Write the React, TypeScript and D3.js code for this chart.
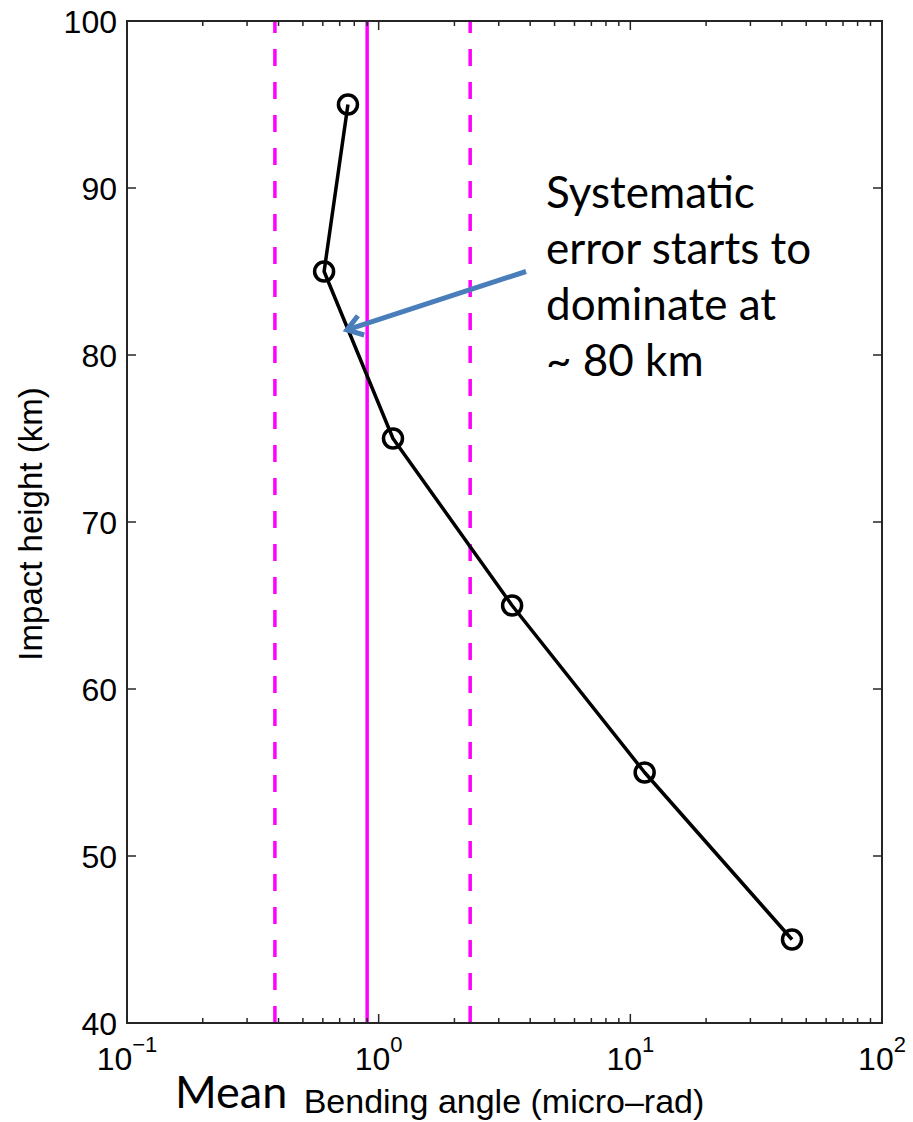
import { useEffect, useRef } from 'react'
import * as d3 from 'd3'

// profile of bending angle error vs impact height
const heights = [95, 85, 75, 65, 55, 45]
const bending = [0.755, 0.607, 1.14, 3.39, 11.4, 43.9]

// reference lines: mean (solid) and spread (dashed)
const meanLine = 0.9
const dashedLines = [0.387, 2.31]

const yTicks = [40, 50, 60, 70, 80, 90, 100]
const xDecades = [-1, 0, 1, 2]

const noteLines = ['Systematic', 'error starts to', 'dominate at', '~ 80 km']
const arrowFrom = { x: 3.85, y: 85.0 }
const arrowTo = { x: 0.748, y: 81.5 }

export default function App() {
  const svgRef = useRef<SVGSVGElement>(null)

  useEffect(() => {
    if (!svgRef.current) return
    const svg = d3.select(svgRef.current)
    svg.selectAll('*').remove()

    const W = 913
    const H = 1122
    const margin = { top: 21, right: 31, bottom: 99, left: 127 }
    const width = W - margin.left - margin.right
    const height = H - margin.top - margin.bottom
    const axisFont = '"Liberation Sans", Arial, sans-serif'
    const noteFont = 'Lato, "Open Sans", sans-serif'

    svg.append('rect').attr('width', W).attr('height', H).attr('fill', '#fff')

    const g = svg
      .append('g')
      .attr('transform', `translate(${margin.left},${margin.top})`)

    const x = d3.scaleLog().domain([0.1, 100]).range([0, width])
    const y = d3.scaleLinear().domain([40, 100]).range([height, 0])

    // magenta reference lines
    g.append('line')
      .attr('x1', x(meanLine))
      .attr('x2', x(meanLine))
      .attr('y1', y(40))
      .attr('y2', y(100))
      .attr('stroke', '#ff00ff')
      .attr('stroke-width', 3.5)

    g.selectAll('.dash')
      .data(dashedLines)
      .enter()
      .append('line')
      .attr('x1', d => x(d))
      .attr('x2', d => x(d))
      .attr('y1', y(40))
      .attr('y2', y(100))
      .attr('stroke', '#ff00ff')
      .attr('stroke-width', 3.5)
      .attr('stroke-dasharray', '17,16')

    // data line + circle markers
    const pts = heights.map((h, i) => ({ h, b: bending[i] }))
    const line = d3
      .line<{ h: number; b: number }>()
      .x(d => x(d.b))
      .y(d => y(d.h))

    g.append('path')
      .datum(pts)
      .attr('fill', 'none')
      .attr('stroke', '#000')
      .attr('stroke-width', 3.5)
      .attr('stroke-linejoin', 'round')
      .attr('d', line)

    g.selectAll('.pt')
      .data(pts)
      .enter()
      .append('circle')
      .attr('cx', d => x(d.b))
      .attr('cy', d => y(d.h))
      .attr('r', 9.5)
      .attr('fill', 'none')
      .attr('stroke', '#000')
      .attr('stroke-width', 3.5)

    // box + ticks (matlab style, inward on all sides)
    const axisColor = '#262626'
    g.append('rect')
      .attr('width', width)
      .attr('height', height)
      .attr('fill', 'none')
      .attr('stroke', axisColor)
      .attr('stroke-width', 2)

    const majorLen = 9
    const minorLen = 5
    yTicks.forEach(t => {
      g.append('line')
        .attr('x1', 0).attr('x2', majorLen)
        .attr('y1', y(t)).attr('y2', y(t))
        .attr('stroke', axisColor).attr('stroke-width', 1.5)
      g.append('line')
        .attr('x1', width).attr('x2', width - majorLen)
        .attr('y1', y(t)).attr('y2', y(t))
        .attr('stroke', axisColor).attr('stroke-width', 1.5)
      g.append('text')
        .attr('x', -10)
        .attr('y', y(t))
        .attr('dy', '0.36em')
        .attr('text-anchor', 'end')
        .attr('font-family', axisFont)
        .attr('font-size', 32)
        .attr('fill', '#000')
        .text(t)
    })

    const xTickVals: { v: number; major: boolean }[] = []
    xDecades.forEach(e => {
      const base = Math.pow(10, e)
      xTickVals.push({ v: base, major: true })
      if (e < 2) for (let k = 2; k <= 9; k++) xTickVals.push({ v: k * base, major: false })
    })
    xTickVals.forEach(t => {
      const len = t.major ? majorLen : minorLen
      g.append('line')
        .attr('x1', x(t.v)).attr('x2', x(t.v))
        .attr('y1', height).attr('y2', height - len)
        .attr('stroke', axisColor).attr('stroke-width', 1.5)
      g.append('line')
        .attr('x1', x(t.v)).attr('x2', x(t.v))
        .attr('y1', 0).attr('y2', len)
        .attr('stroke', axisColor).attr('stroke-width', 1.5)
    })

    xDecades.forEach(e => {
      const t = g
        .append('text')
        .attr('x', x(Math.pow(10, e)))
        .attr('y', height + 47)
        .attr('text-anchor', 'middle')
        .attr('font-family', axisFont)
        .attr('font-size', 32)
        .attr('fill', '#000')
      t.append('tspan').text('10')
      t.append('tspan')
        .attr('dy', -18)
        .attr('font-size', 22)
        .text(e < 0 ? `\u2212${-e}` : `${e}`)
    })

    // axis titles
    g.append('text')
      .attr('x', 377)
      .attr('y', height + 90)
      .attr('text-anchor', 'middle')
      .attr('font-family', axisFont)
      .attr('font-size', 34)
      .attr('fill', '#000')
      .text('Bending angle (micro\u2013rad)')

    g.append('text')
      .attr('transform', `translate(${-margin.left + 42},${524 - margin.top}) rotate(-90)`)
      .attr('text-anchor', 'middle')
      .attr('font-family', axisFont)
      .attr('font-size', 33)
      .attr('fill', '#000')
      .text('Impact height (km)')

    svg.append('text')
      .attr('x', 175)
      .attr('y', 1108)
      .attr('font-family', noteFont)
      .attr('font-size', 45)
      .attr('fill', '#000')
      .text('Mean')

    // annotation text
    const note = g
      .append('text')
      .attr('font-family', noteFont)
      .attr('font-size', 44)
      .attr('fill', '#000')
    noteLines.forEach((s, i) => {
      note
        .append('tspan')
        .attr('x', 546 - margin.left)
        .attr('y', 208 - margin.top + i * 56)
        .text(s)
    })

    // annotation arrow
    const ax0 = x(arrowFrom.x)
    const ay0 = y(arrowFrom.y)
    const ax1 = x(arrowTo.x)
    const ay1 = y(arrowTo.y)
    const ang = Math.atan2(ay1 - ay0, ax1 - ax0)
    const headLen = 18
    const spread = 0.6
    const blue = '#4a7ebb'
    g.append('line')
      .attr('x1', ax0).attr('y1', ay0)
      .attr('x2', ax1 - Math.cos(ang) * 4).attr('y2', ay1 - Math.sin(ang) * 4)
      .attr('stroke', blue)
      .attr('stroke-width', 5)
    g.append('path')
      .attr('d', `M${ax1 - headLen * Math.cos(ang - spread)},${ay1 - headLen * Math.sin(ang - spread)}L${ax1},${ay1}L${ax1 - headLen * Math.cos(ang + spread)},${ay1 - headLen * Math.sin(ang + spread)}`)
      .attr('fill', 'none')
      .attr('stroke', blue)
      .attr('stroke-width', 5)
      .attr('stroke-linejoin', 'miter')
  }, [])

  return (
    <svg
      ref={svgRef}
      width={913}
      height={1122}
      style={{ position: 'absolute', left: 0, top: 0 }}
    />
  )
}
